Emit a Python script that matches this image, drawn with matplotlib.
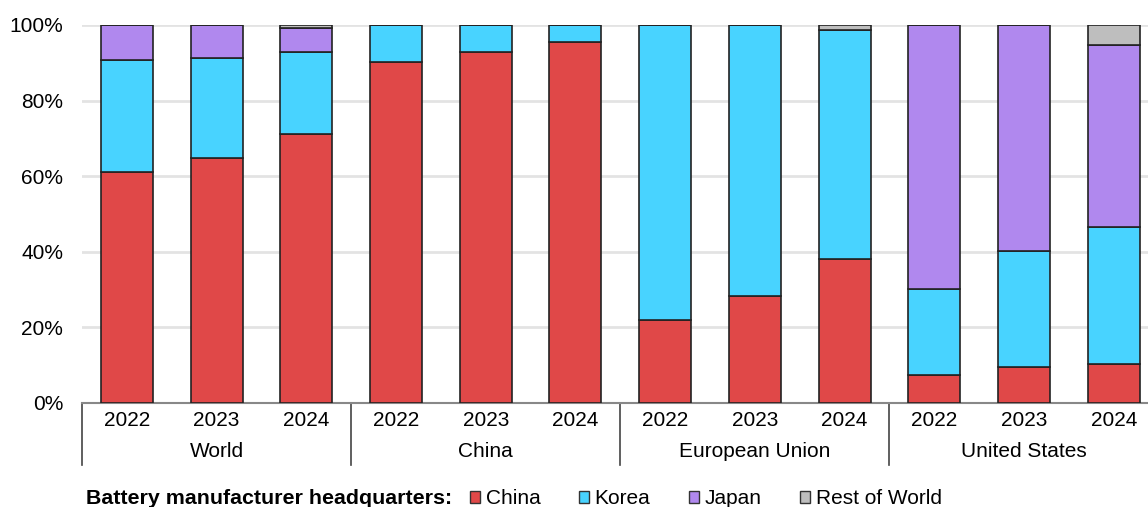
import matplotlib.pyplot as plt
from matplotlib.patches import Patch

plt.rcParams['font.family'] = ['Liberation Sans', 'DejaVu Sans']

regions = ['World', 'China', 'European Union', 'United States']
years = ['2022', '2023', '2024']

# shares (%) by manufacturer headquarters, bars in order region x year
china = [61.1, 64.8, 71.2, 90.2, 92.9, 95.5, 22.0, 28.3, 38.1, 7.4, 9.6, 10.4]
korea = [29.6, 26.5, 21.7, 9.8, 7.1, 4.5, 78.0, 71.7, 60.7, 22.8, 30.7, 36.2]
japan = [9.3, 8.7, 6.2, 0, 0, 0, 0, 0, 0, 69.8, 59.7, 48.1]
rest = [0, 0, 0.9, 0, 0, 0, 0, 0, 1.2, 0, 0, 5.3]

series = [('China', china, '#e04848'),
          ('Korea', korea, '#48d3ff'),
          ('Japan', japan, '#b088ee'),
          ('Rest of World', rest, '#bebebe')]

fig = plt.figure(figsize=(11.48, 5.07), dpi=100)
ax = fig.add_axes([82 / 1148, 104 / 507, 1 - 82 / 1148, 378 / 507])

x = list(range(len(china)))
bottom = [0] * len(x)
for name, vals, col in series:
    ax.bar(x, vals, width=0.58, bottom=bottom, color=col,
           edgecolor='#222222', linewidth=1.2, zorder=3)
    bottom = [b + v for b, v in zip(bottom, vals)]

ax.set_xlim(-0.5, (1148 - 127) / 89.7)
ax.set_ylim(0, 100)
ax.set_yticks(range(0, 101, 20))
ax.set_yticklabels([f'{v}%' for v in range(0, 101, 20)], fontsize=15)
ax.yaxis.grid(True, color='#e3e3e3', linewidth=2, zorder=0)
ax.tick_params(axis='y', length=0, pad=13.5)

ax.set_xticks(x)
ax.set_xticklabels(years * len(regions), fontsize=15)
ax.tick_params(axis='x', length=0, pad=5.5)

for s in ['left', 'right', 'top']:
    ax.spines[s].set_visible(False)
ax.spines['bottom'].set_color('#888888')
ax.spines['bottom'].set_linewidth(1.5)

trans = ax.get_xaxis_transform()
for i, r in enumerate(regions):
    left = i * 3 - 0.5
    ax.plot([left, left], [0, -62 / 378], transform=trans, color='#444444',
            linewidth=1.2, clip_on=False)
    ax.text(i * 3 + 1, -48.5 / 378, r, transform=trans, ha='center',
            va='center', fontsize=15)

fig.text(86 / 1148, 8 / 507, 'Battery manufacturer headquarters:',
         fontsize=15.4, fontweight='bold', va='center', ha='left')
handles = [Patch(facecolor=c, edgecolor='#333333', label=n) for n, v, c in series]
fig.legend(handles=handles, loc='center left', bbox_to_anchor=(470 / 1148, 8 / 507),
           ncol=4, frameon=False, fontsize=15, handlelength=0.5, handleheight=0.5,
           handletextpad=0.25, columnspacing=1.85, borderpad=0, borderaxespad=0)

fig.savefig('out.png', dpi=100)
